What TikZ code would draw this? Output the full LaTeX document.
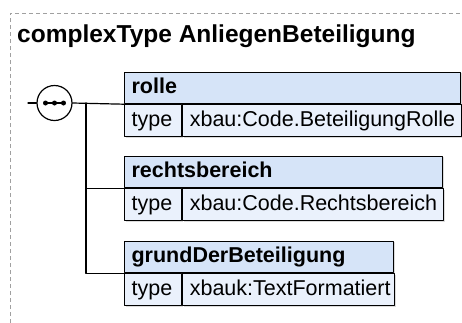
\documentclass[tikz,border=0pt]{standalone}
\usepackage{fontspec}
\setmainfont{Liberation Sans}
\usetikzlibrary{shadows}
\definecolor{Hfill}{RGB}{214,228,248}
\definecolor{Tfill}{RGB}{234,241,252}
\definecolor{Frame}{RGB}{160,160,160}

\begin{document}
\begin{tikzpicture}[x=1pt,y=-1pt,line cap=round,line join=round,
  elembox/.style={draw,line width=1.2pt,inner xsep=7pt,inner ysep=0pt,
    text height=15pt,text depth=4.5pt,align=left,anchor=north west,
    font=\fontsize{21.5}{24}\selectfont,
    drop shadow={shadow xshift=1.2pt,shadow yshift=-1.2pt,opacity=0.35,fill=black!40}},
  hdr/.style={elembox,fill=Hfill,minimum height=31.5pt,text width=#1,
    font=\bfseries\fontsize{21.5}{24}\selectfont},
  tlab/.style={elembox,fill=Tfill,minimum height=32pt,text width=43pt},
  tval/.style={elembox,fill=Tfill,minimum height=32pt,text width=#1},
  wire/.style={line width=1.2pt}]
\path[use as bounding box] (0,0) rectangle (462,322);
% dashed frame of the complex type
\draw[Frame,line width=1pt,dash pattern=on 4pt off 3pt,line cap=butt] (10,330) -- (10,13) -- (470,13);
\node[anchor=base west,inner sep=0pt,font=\bfseries\fontsize{24.5}{28}\selectfont] (title) at (17,42.5) {complexType AnliegenBeteiligung};
% sequence compositor
\coordinate (in) at (28,103);
\node[circle,draw,wire,fill=white,minimum size=35pt,inner sep=0pt] (seq) at (54.5,103) {};
\draw[wire] (seq.center) ++(-9,0) -- ++(18,0);
\foreach \dx in {-9,0,9}
  \fill (seq.center) ++(\dx,0) circle[radius=2.5pt];
\coordinate (fork) at (86,103);
% elements
\node[hdr=322pt] (rolle) at (124,71.5) {rolle};
\node[tlab] (rolleT) at (rolle.south west) {type};
\node[tval=265pt] (rolleV) at (rolleT.north east) {xbau:Code.BeteiligungRolle};
\node[hdr=304pt] (rechts) at (124,155.5) {rechtsbereich};
\node[tlab] (rechtsT) at (rechts.south west) {type};
\node[tval=247pt] (rechtsV) at (rechtsT.north east) {xbau:Code.Rechtsbereich};
\node[hdr=255pt] (grund) at (124,240.5) {grundDerBeteiligung};
\node[tlab] (grundT) at (grund.south west) {type};
\node[tval=198pt] (grundV) at (grundT.north east) {xbauk:TextFormatiert};
% connectors
\draw[wire] (in) -- (seq.west);
\draw[wire] (seq.east) -- (rolle.south west);
\draw[wire] (fork) |- (grund.south west);
\draw[wire] (fork |- rechts.south west) -- (rechts.south west);
\end{tikzpicture}
\end{document}
